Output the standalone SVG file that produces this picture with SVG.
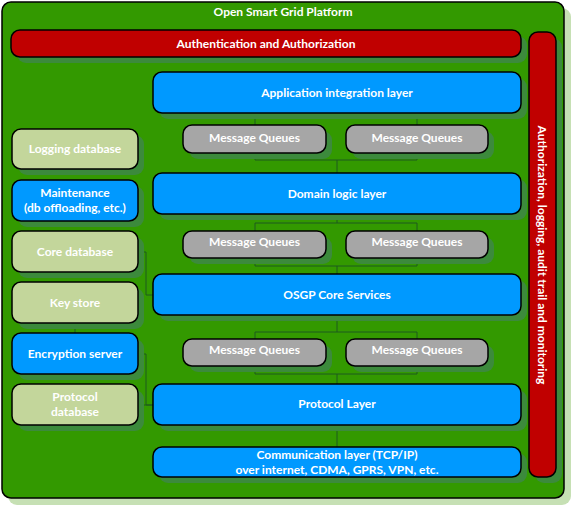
<svg xmlns="http://www.w3.org/2000/svg" width="572" height="506" viewBox="0 0 572 506">
<style>
.sh{fill:#3c8a3c}
.bx{stroke:#000;stroke-width:1.5}
.blue{fill:#0099ff}
.red{fill:#c00000}
.gray{fill:#a6a6a6}
.olive{fill:#c3d69b}
text{font-family:Lato,"Open Sans","Liberation Sans",sans-serif;font-weight:bold;font-size:12px;fill:#fff;text-anchor:middle;dominant-baseline:central}
.cn{fill:none;stroke:#1f5a1f;stroke-width:1}
</style>
<rect x="8" y="8" width="563" height="497" rx="9" fill="#c6e0b4"/>
<rect x="2" y="2" width="562" height="496" rx="9" fill="#339900" stroke="#000" stroke-width="1.5"/>
<text x="283" y="11">Open Smart Grid Platform</text>
<g id="connectors">
<path class="cn" d="M337 113V118M255 118H417M255 118V160M417 118V160M255 160H417M337 160V173"/>
<path class="cn" d="M337 214V223M255 223H417M255 223V266M417 223V266M255 266H417M337 266V274"/>
<path class="cn" d="M337 315V332M255 332H417M255 332V374M417 332V374M255 374H417M337 374V384"/>
<path class="cn" d="M337 425V447"/>
<path class="cn" d="M138 252H146V295H153"/>
<path class="cn" d="M75 323V333"/>
<path class="cn" d="M138 354H146V405H153M138 405H153"/>
</g>
<g id="auth">
<rect class="sh" x="17" y="36" width="510" height="27" rx="9"/>
<rect class="bx red" x="11" y="30" width="510" height="27" rx="9"/>
<text x="266" y="43">Authentication and Authorization</text>
</g>
<g id="audit">
<rect class="sh" x="535" y="38" width="27" height="445" rx="9"/>
<rect class="bx red" x="529" y="32" width="27" height="445" rx="9"/>
<text transform="translate(542 255) rotate(90)">Authorization, logging, audit trail and monitoring</text>
</g>
<g id="app">
<rect class="sh" x="159" y="78" width="368" height="41" rx="9"/>
<rect class="bx blue" x="153" y="72" width="368" height="41" rx="9"/>
<text x="337" y="92">Application integration layer</text>
</g>
<g id="mq1a">
<rect class="sh" x="189" y="131" width="143" height="28" rx="9"/>
<rect class="bx gray" x="183" y="125" width="143" height="28" rx="9"/>
<text x="254.5" y="137">Message Queues</text>
</g>
<g id="mq1b">
<rect class="sh" x="352" y="131" width="142" height="28" rx="9"/>
<rect class="bx gray" x="346" y="125" width="142" height="28" rx="9"/>
<text x="417" y="137">Message Queues</text>
</g>
<g id="domain">
<rect class="sh" x="159" y="179" width="368" height="41" rx="9"/>
<rect class="bx blue" x="153" y="173" width="368" height="41" rx="9"/>
<text x="337" y="193">Domain logic layer</text>
</g>
<g id="mq2a">
<rect class="sh" x="189" y="237" width="143" height="27" rx="9"/>
<rect class="bx gray" x="183" y="231" width="143" height="27" rx="9"/>
<text x="254.5" y="241.5">Message Queues</text>
</g>
<g id="mq2b">
<rect class="sh" x="352" y="237" width="142" height="27" rx="9"/>
<rect class="bx gray" x="346" y="231" width="142" height="27" rx="9"/>
<text x="417" y="241.5">Message Queues</text>
</g>
<g id="core">
<rect class="sh" x="159" y="280" width="368" height="41" rx="9"/>
<rect class="bx blue" x="153" y="274" width="368" height="41" rx="9"/>
<text x="337" y="294">OSGP Core Services</text>
</g>
<g id="mq3a">
<rect class="sh" x="189" y="345" width="143" height="27" rx="9"/>
<rect class="bx gray" x="183" y="339" width="143" height="27" rx="9"/>
<text x="254.5" y="349.5">Message Queues</text>
</g>
<g id="mq3b">
<rect class="sh" x="352" y="345" width="142" height="27" rx="9"/>
<rect class="bx gray" x="346" y="339" width="142" height="27" rx="9"/>
<text x="417" y="349.5">Message Queues</text>
</g>
<g id="protocol">
<rect class="sh" x="159" y="390" width="368" height="41" rx="9"/>
<rect class="bx blue" x="153" y="384" width="368" height="41" rx="9"/>
<text x="337" y="403.5">Protocol Layer</text>
</g>
<g id="comm">
<rect class="sh" x="159" y="453" width="368" height="30" rx="9"/>
<rect class="bx blue" x="153" y="447" width="368" height="30" rx="9"/>
<text x="337" y="454">Communication layer (TCP/IP)</text>
<text x="337" y="469">over internet, CDMA, GPRS, VPN, etc.</text>
</g>
<g id="logging">
<rect class="sh" x="18" y="135" width="126" height="40" rx="9"/>
<rect class="bx olive" x="12" y="129" width="126" height="40" rx="9"/>
<text x="75" y="148">Logging database</text>
</g>
<g id="maint">
<rect class="sh" x="18" y="186" width="126" height="41" rx="9"/>
<rect class="bx blue" x="12" y="180" width="126" height="41" rx="9"/>
<text x="75" y="192">Maintenance</text>
<text x="75" y="207">(db offloading, etc.)</text>
</g>
<g id="coredb">
<rect class="sh" x="18" y="237" width="126" height="41" rx="9"/>
<rect class="bx olive" x="12" y="231" width="126" height="41" rx="9"/>
<text x="75" y="251">Core database</text>
</g>
<g id="keystore">
<rect class="sh" x="18" y="288" width="126" height="41" rx="9"/>
<rect class="bx olive" x="12" y="282" width="126" height="41" rx="9"/>
<text x="75" y="302">Key store</text>
</g>
<g id="encrypt">
<rect class="sh" x="18" y="339" width="126" height="41" rx="9"/>
<rect class="bx blue" x="12" y="333" width="126" height="41" rx="9"/>
<text x="75" y="353">Encryption server</text>
</g>
<g id="protodb">
<rect class="sh" x="18" y="390" width="126" height="41" rx="9"/>
<rect class="bx olive" x="12" y="384" width="126" height="41" rx="9"/>
<text x="75" y="396">Protocol</text>
<text x="75" y="411">database</text>
</g>
</svg>
